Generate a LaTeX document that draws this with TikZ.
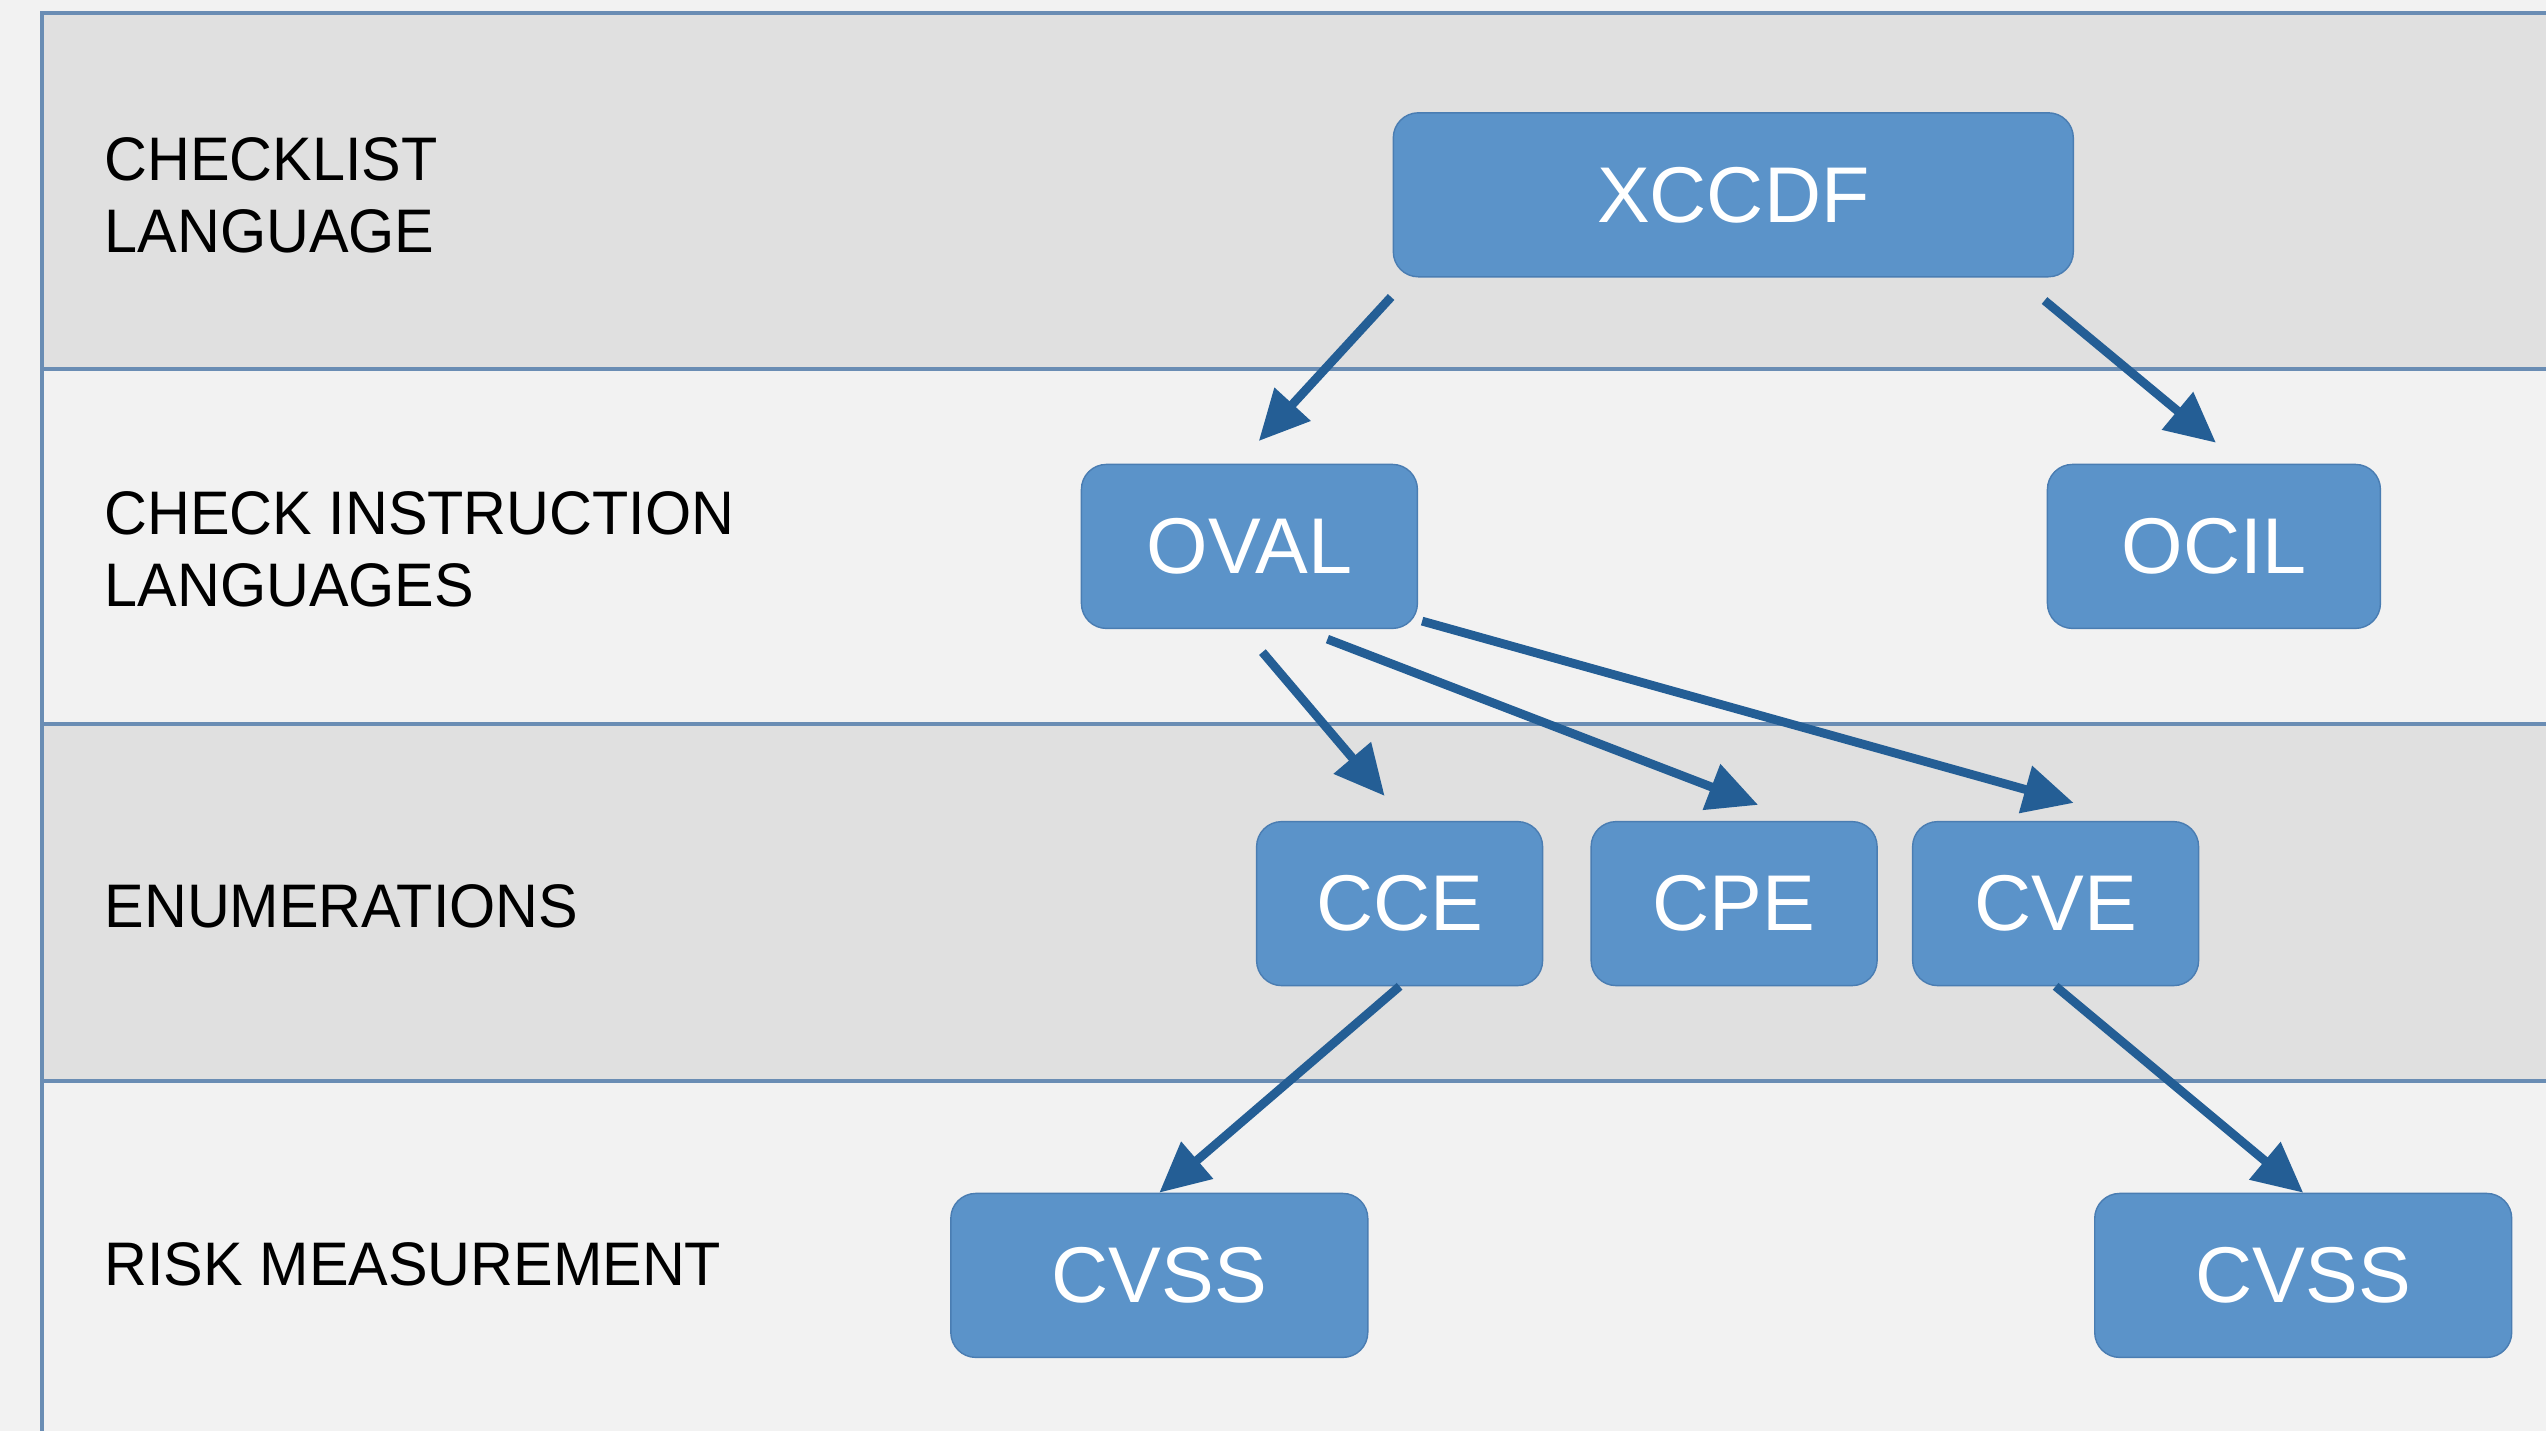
\documentclass[tikz,border=0pt]{standalone}
\usepackage{fontspec}
\setmainfont{Liberation Sans}
\newfontfamily\layerfont{Liberation Sans}[FakeStretch=0.965]
\usetikzlibrary{arrows.meta}
\definecolor{bandDark}{HTML}{E0E0E0}
\definecolor{bandLight}{HTML}{F2F2F2}
\definecolor{rule}{HTML}{6A8DB4}
\definecolor{boxfill}{HTML}{5B93C9}
\definecolor{boxline}{HTML}{4A7DB2}
\definecolor{flowline}{HTML}{245E95}

\begin{document}
\begin{tikzpicture}[
    spec/.style={draw=boxline, fill=boxfill, rounded corners=0.25cm, text=white,
      minimum height=1.64cm, inner sep=0pt, font=\fontsize{22.5}{27}\selectfont},
    layer/.style={anchor=west, align=left, inner sep=0pt,
      font=\layerfont\fontsize{17.5}{20.4}\selectfont},
    flow/.style={draw=flowline, line width=2.5pt,
      -{Triangle[length=0.5cm,width=0.47cm]}}
  ]
    \useasboundingbox (0,0) rectangle (25.46,-14.31);
    % bands
    \fill [bandLight] (0,0) rectangle (25.46,-14.31);
    \fill [bandDark] (0.422,-0.13) rectangle (25.46,-3.686);
    \fill [bandDark] (0.422,-7.242) rectangle (25.46,-10.814);
    \draw [rule, line width=1.1pt] (25.46,-0.13) -- (0.422,-0.13) -- (0.422,-14.31);
    \foreach \y in {3.686,7.242,10.814}
      \draw [rule, line width=1.1pt] (0.422,-\y) -- (25.46,-\y);

    % layer names
    \node [layer] (checklist) at (1.039,-1.95) {CHECKLIST\\LANGUAGE};
    \node [layer] (checkinstr) at (1.039,-5.49) {CHECK INSTRUCTION\\LANGUAGES};
    \node [layer] (enums) at (1.039,-9.06) {ENUMERATIONS};
    \node [layer] (risk) at (1.039,-12.64) {RISK MEASUREMENT};

    % specs
    \node [spec, minimum width=6.80cm] (xccdf) at (17.333,-1.948) {XCCDF};
    \node [spec, minimum width=3.36cm] (oval) at (12.494,-5.464) {OVAL};
    \node [spec, minimum width=3.33cm] (ocil) at (22.139,-5.464) {OCIL};
    \node [spec, minimum width=2.86cm] (cce) at (13.996,-9.036) {CCE};
    \node [spec, minimum width=2.86cm] (cpe) at (17.341,-9.036) {CPE};
    \node [spec, minimum width=2.86cm] (cve) at (20.556,-9.036) {CVE};
    \node [spec, minimum width=4.17cm] (cvssA) at (11.593,-12.754) {CVSS};
    \node [spec, minimum width=4.17cm] (cvssB) at (23.032,-12.754) {CVSS};

    % links
    \draw [flow] ([shift={(-0.015,-0.195)}]xccdf.south west) -- ([shift={(0.094,0.227)}]oval.north);
    \draw [flow] ([shift={(-0.295,-0.23)}]xccdf.south east) -- ([shift={(0.02,0.21)}]ocil.north);
    \draw [flow] ([shift={(0.13,-0.23)}]oval.south) -- ([shift={(-0.15,0.25)}]cce.north);
    \draw [flow] ([shift={(0.78,-0.10)}]oval.south) -- ([shift={(0.24,0.16)}]cpe.north);
    \draw [flow] ([shift={(0.04,0.08)}]oval.south east) -- ([shift={(0.18,0.18)}]cve.north);
    \draw [flow] (cce.south) -- (cvssA.north);
    \draw [flow] (cve.south) -- (cvssB.north);
  \end{tikzpicture}
\end{document}
